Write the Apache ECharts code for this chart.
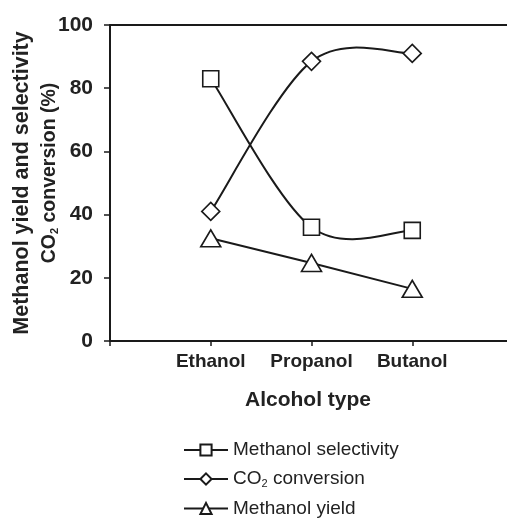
<!DOCTYPE html>
<html><head><meta charset="utf-8">
<script src="https://cdn.jsdelivr.net/npm/echarts@6/dist/echarts.min.js"></script>
<style>html,body{margin:0;padding:0;background:#fff}#c{width:507px;height:518px}</style>
</head><body><div id="c"></div>
<script>
var categories = ['', 'Ethanol', 'Propanol', 'Butanol', ''];
var selectivity = [83, 36, 35];
var conversion = [41, 88.5, 91];
var yieldVals = [32.5, 24.7, 16.5];
var yTicks = [0, 20, 40, 60, 80, 100];

function pad(a){ return [null].concat(a).concat([null]); }
function pairs(a){ return a.map(function(v,k){ return [k+1, v]; }); }
var F = 'Liberation Sans, Arial, sans-serif';
var INK = '#1a1a1a';

// Excel-style smoothed curve drawn through the library's coordinate system
function curveRenderer(arr){
  return function(params, api){
    var k = params.dataIndex;
    if (k >= arr.length - 1) return null;
    var P = arr.map(function(v,j){ return api.coord([j+1, v]); });
    var p0 = P[Math.max(k-1,0)], p1 = P[k], p2 = P[k+1], p3 = P[Math.min(k+2, P.length-1)];
    return {
      type:'bezierCurve',
      shape:{
        x1:p1[0], y1:p1[1], x2:p2[0], y2:p2[1],
        cpx1:p1[0] + (p2[0]-p0[0])/6, cpy1:p1[1] + (p2[1]-p0[1])/6,
        cpx2:p2[0] - (p3[0]-p1[0])/6, cpy2:p2[1] - (p3[1]-p1[1])/6
      },
      style:{stroke:INK, lineWidth:2, fill:null}
    };
  };
}

var chart = echarts.init(document.getElementById('c'));
var mk = {color:'#fff', borderColor:INK, borderWidth:1.6};
chart.setOption({
  backgroundColor:'#fff',
  animation:false,
  grid:{left:110, top:25, width:403, height:316, containLabel:false, outerBoundsMode:'none'},
  legend:{
    orient:'vertical', left:183, top:440, height:110, padding:0, itemGap:9, itemWidth:44, itemHeight:14,
    lineStyle:{color:INK, width:2, opacity:1},
    textStyle:{fontFamily:F, fontSize:19, color:'#222', lineHeight:20,
      rich:{a:{fontFamily:F,fontSize:19,color:'#222'}, s:{fontFamily:F,fontSize:11,color:'#222',padding:[10,0,0,0]}}},
    formatter:function(n){ if(n==='CO2 conversion') return '{a|CO}{s|2}{a| conversion}'; return n; },
    data:['Methanol selectivity','CO2 conversion','Methanol yield']
  },
  xAxis:[{
    type:'category', data:categories, boundaryGap:false,
    axisLine:{lineStyle:{color:INK, width:2}},
    axisTick:{length:5, interval:0, lineStyle:{color:INK, width:1.5}},
    axisLabel:{interval:0, fontFamily:F, fontWeight:'bold', fontSize:19, color:'#222', margin:11},
    name:'Alcohol type', nameLocation:'middle', nameGap:49,
    nameTextStyle:{fontFamily:F, fontWeight:'bold', fontSize:21, color:'#222', padding:[0,0,0,-7]}
  },{
    type:'category', data:categories, position:'top', boundaryGap:false,
    axisLine:{lineStyle:{color:INK, width:2}}, axisTick:{show:false}, axisLabel:{show:false}
  }],
  yAxis:{
    type:'value', min:yTicks[0], max:yTicks[yTicks.length-1], interval:20,
    splitLine:{show:false},
    axisLine:{show:true, lineStyle:{color:INK, width:2}},
    axisTick:{show:true, length:6, lineStyle:{color:INK, width:1.5}},
    axisLabel:{fontFamily:F, fontWeight:'bold', fontSize:21, color:'#222', margin:17},
    name:'{a|Methanol yield and selectivity}\n{c|CO}{s|2}{b| conversion (%)}',
    nameLocation:'middle', nameRotate:90, nameGap:47, nameMoveOverlap:false,
    nameTextStyle:{align:'center', rich:{
      a:{fontFamily:F, fontWeight:'bold', fontSize:21.5, color:'#222', lineHeight:27, align:'center'},
      b:{fontFamily:F, fontWeight:'bold', fontSize:19.5, color:'#222', lineHeight:27, align:'center'},
      c:{fontFamily:F, fontWeight:'bold', fontSize:19.5, color:'#222', lineHeight:27, align:'center', padding:[0,0,0,20]},
      s:{fontFamily:F, fontWeight:'bold', fontSize:11, color:'#222', padding:[11,0,0,0]}
    }}
  },
  series:[
    {name:'sel-curve', type:'custom', z:1, data:pairs(selectivity), renderItem:curveRenderer(selectivity), silent:true},
    {name:'conv-curve', type:'custom', z:1, data:pairs(conversion), renderItem:curveRenderer(conversion), silent:true},
    {name:'Methanol selectivity', type:'line', z:3, data:pad(selectivity),
     symbol:'rect', symbolSize:16, itemStyle:mk, lineStyle:{color:INK, width:0, opacity:0}},
    {name:'CO2 conversion', type:'line', z:3, data:pad(conversion),
     symbol:'diamond', symbolSize:[18,18], itemStyle:mk, lineStyle:{color:INK, width:0, opacity:0}},
    {name:'Methanol yield', type:'line', z:3, data:pad(yieldVals),
     symbol:'triangle', symbolSize:[20,17], itemStyle:mk, lineStyle:{color:INK, width:2}}
  ]
});
</script></body></html>
